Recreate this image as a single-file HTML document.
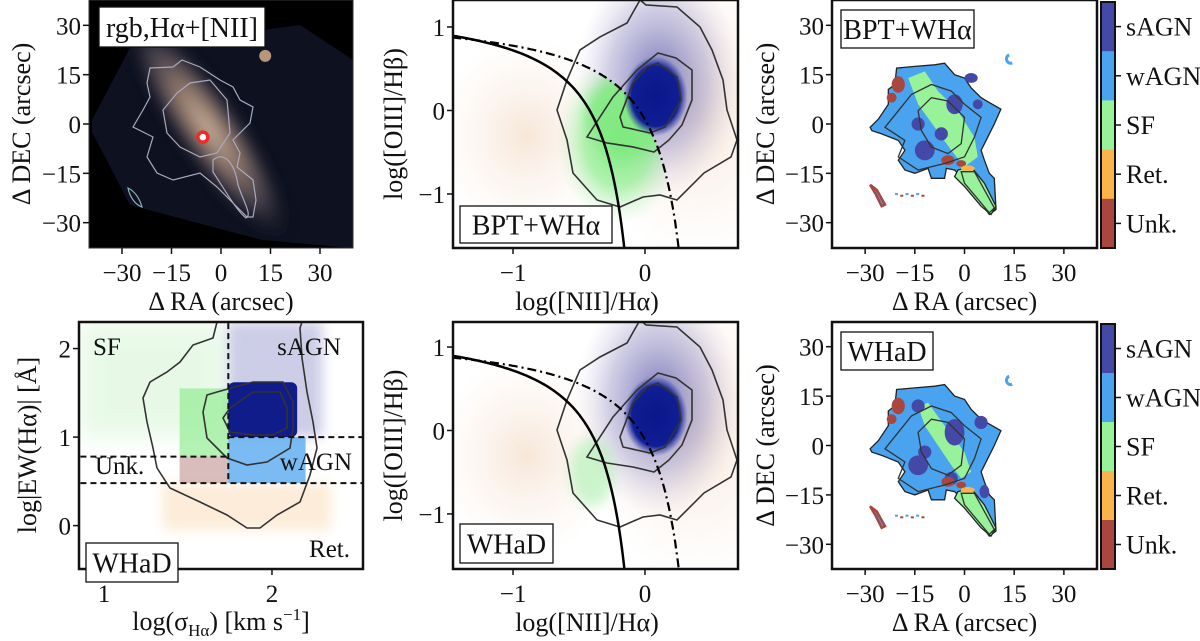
<!DOCTYPE html>
<html><head><meta charset="utf-8">
<style>
html,body{margin:0;padding:0;background:#fff;}
svg{display:block;font-family:"Liberation Serif",serif;}
text{fill:#111;}
</style></head>
<body>
<svg id="fig" width="1200" height="641" viewBox="0 0 1200 641" xmlns="http://www.w3.org/2000/svg">
<defs id="defs">
<filter id="blur3" x="-30%" y="-30%" width="160%" height="160%"><feGaussianBlur stdDeviation="3"/></filter>
<filter id="blur6" x="-50%" y="-50%" width="200%" height="200%"><feGaussianBlur stdDeviation="6"/></filter>
<filter id="blur12" x="-50%" y="-50%" width="200%" height="200%"><feGaussianBlur stdDeviation="12"/></filter>
<radialGradient id="gBlue" cx="50%" cy="50%" r="50%"><stop offset="0" stop-color="#0a168a"/><stop offset="0.75" stop-color="#101e94"/><stop offset="1" stop-color="#2a3aa8" stop-opacity="0"/></radialGradient>
<radialGradient id="gHalo" cx="50%" cy="50%" r="50%"><stop offset="0" stop-color="#4a4aa8" stop-opacity="0.75"/><stop offset="0.6" stop-color="#8a88c4" stop-opacity="0.4"/><stop offset="1" stop-color="#c8b8d0" stop-opacity="0"/></radialGradient>
<radialGradient id="gOrange" cx="50%" cy="50%" r="50%"><stop offset="0" stop-color="#e8b890" stop-opacity="0.35"/><stop offset="1" stop-color="#f2d6c0" stop-opacity="0"/></radialGradient>
<radialGradient id="gGreen" cx="50%" cy="50%" r="50%"><stop offset="0" stop-color="#78ea78" stop-opacity="1"/><stop offset="0.55" stop-color="#95ee95" stop-opacity="0.75"/><stop offset="1" stop-color="#c8f2c8" stop-opacity="0"/></radialGradient>
<radialGradient id="gGal" cx="50%" cy="50%" r="50%"><stop offset="0" stop-color="#e8ccb0"/><stop offset="0.35" stop-color="#a88a78"/><stop offset="0.7" stop-color="#4a4450"/><stop offset="1" stop-color="#1a1c28" stop-opacity="0"/></radialGradient>
<clipPath id="clip1"><rect x="89" y="0" width="264" height="248"/></clipPath>
<clipPath id="clip2"><rect x="453" y="0" width="285" height="248"/></clipPath>
<clipPath id="clip4"><rect x="79" y="322" width="284" height="247"/></clipPath>
<clipPath id="clip5"><rect x="453" y="322" width="285" height="247"/></clipPath>
</defs>
<g id="layer"></g>
</svg>
<script>
// ---------- data arrays ----------
const mapTicks = [-30, -15, 0, 15, 30];
const mapTickLabels = ["\u221230", "\u221215", "0", "15", "30"];
const bptXTicks = [-1, 0];
const bptXTickLabels = ["\u22121", "0"];
const bptYTicks = [-1, 0, 1];
const bptYTickLabels = ["\u22121", "0", "1"];
const whadXTicks = [1, 2];
const whadXTickLabels = ["1", "2"];
const whadYTicks = [0, 1, 2];
const whadYTickLabels = ["0", "1", "2"];
const classLabels = ["sAGN", "wAGN", "SF", "Ret.", "Unk."];
const classColors = ["#4448a6", "#4aa3ef", "#98f29a", "#fbb44c", "#a8463f"];
const kauffmannCoef = [0.61, 0.05, 1.3];
const kewleyCoef = [0.61, 0.47, 1.19];
const whadSigmaCut = [1.74];
const whadEWCuts = [0.48, 0.78, 1.0];
const bptCore = [0.08, 0.17];
const bptSFCore = [-0.2, -0.35];
const whadCore = [2.0, 1.3];
const galaxyOutline = [[-28.5,-1],[-26,1.5],[-23,6],[-23,10.5],[-21,12],[-20.5,17],[-15,17.5],[-9,18],[-6,18.5],[-3,15],[0,14],[2,11],[5,8],[7.5,6.5],[11,4.5],[9,0],[7,-4],[5,-8],[6,-11],[7.5,-15],[9,-16.5],[9.5,-26],[7.5,-27.5],[5,-24],[0,-17],[-3,-14],[-5.5,-13.5],[-6,-16.5],[-10,-16.5],[-11,-13.5],[-15,-15],[-18,-14],[-20,-11],[-18,-8],[-20,-5],[-25,-3],[-28,-2]];
const sfBandBPT = [[-17,14],[-12,16],[-8,10],[-2,4],[3,-4],[4,-10],[0,-13],[-4,-8],[-9,-1],[-14,6]];
const sfBandWHaD = [[-14,12],[-11,13],[-6,6],[0,-2],[2,-8],[-1,-10],[-4,-6],[-8,0],[-12,6]];
const sfTail = [[-2,-14],[2,-13],[6,-18],[9.5,-25],[8,-27.5],[5,-25],[0,-19],[-3,-16]];
const sagnPatchesBPT = [[-12,-8,3,3],[-7,-3,2,2],[-3,6,2.5,3],[2,14,2,1.5],[-14,0,2,2],[4,6,1.5,1.5]];
const sagnPatchesWHaD = [[-14,-6,3,3],[-3,4,3,4],[5,7,2,2],[-14,12,2,2],[-4,-10,2,2],[-12,-2,2,2],[6,-14,1.5,2]];
const unkPatches = [[-20,12,2,2.5],[-5,-11,2,1.5],[-22,8,1.5,1.5],[-1,-12,1.5,1]];
const island = [[-28.5,-18.5],[-26.5,-20],[-24,-24.5],[-25,-25],[-27,-21]];
const mapContourOuter = [[-24,-1],[-20,4],[-16,9],[-10,12],[-4,10],[0,6],[5,2],[3,-4],[0,-10],[-6,-12],[-14,-14],[-20,-10],[-18,-5]];
const mapContourInner = [[-14,4],[-10,8],[-5,7],[0,2],[-1,-6],[-5,-9],[-10,-7],[-13,-2]];
const mapContourTail = [[-1,-14.5],[3,-14.5],[9,-25.5],[7.5,-27],[0,-18]];
const nucleus = [-5.5, -4];
const companion = [13.4, 20.7];

// ---------- helpers ----------
const NS = "http://www.w3.org/2000/svg";
const root = document.getElementById("layer");
function mk(tag, parent) { const e = document.createElementNS(NS, tag); (parent || root).appendChild(e); return e; }
function axis(px0, px1, py0, py1, xmin, xmax, ymin, ymax) {
  return { x: v => px0 + (v - xmin) / (xmax - xmin) * (px1 - px0),
           y: v => py1 - (v - ymin) / (ymax - ymin) * (py1 - py0),
           px0, px1, py0, py1 };
}
function txt(parent, x, y, s, size, anchor, rot) {
  const t = mk("text", parent);
  t.setAttribute("x", x); t.setAttribute("y", y);
  t.setAttribute("font-size", size);
  t.setAttribute("text-anchor", anchor || "middle");
  if (rot) t.setAttribute("transform", "rotate(" + rot + " " + x + " " + y + ")");
  t.textContent = s;
  return t;
}
function polyPath(A, pts) { return pts.map((p, i) => (i ? "L" : "M") + A.x(p[0]).toFixed(1) + "," + A.y(p[1]).toFixed(1)).join("") + "Z"; }
function ticks(g, A, xt, xl, yt, yl) {
  xt.forEach((v, i) => {
    const l = mk("line", g);
    l.setAttribute("x1", A.x(v)); l.setAttribute("x2", A.x(v));
    l.setAttribute("y1", A.py1); l.setAttribute("y2", A.py1 + 6);
    l.setAttribute("stroke", "#111"); l.setAttribute("stroke-width", "1.5");
    const t = txt(g, A.x(v), A.py1 + 33, xl[i], 25, "middle");
    
    
  });
  yt.forEach((v, i) => {
    const l = mk("line", g);
    l.setAttribute("x1", A.px0 - 6); l.setAttribute("x2", A.px0);
    l.setAttribute("y1", A.y(v)); l.setAttribute("y2", A.y(v));
    l.setAttribute("stroke", "#111"); l.setAttribute("stroke-width", "1.5");
    const t = txt(g, A.px0 - 8, A.y(v) + 9, yl[i], 25, "end");
    
    
  });
}
function frame(g, A, color, w) {
  const r = mk("rect", g);
  r.setAttribute("x", A.px0); r.setAttribute("y", A.py0);
  r.setAttribute("width", A.px1 - A.px0); r.setAttribute("height", A.py1 - A.py0);
  r.setAttribute("fill", "none"); r.setAttribute("stroke", color); r.setAttribute("stroke-width", w);
  
  
}
function legendBox(g, x, y, w, h, s) {
  const r = mk("rect", g);
  r.setAttribute("x", x); r.setAttribute("y", y); r.setAttribute("width", w); r.setAttribute("height", h);
  r.setAttribute("fill", "#fff"); r.setAttribute("stroke", "#111"); r.setAttribute("stroke-width", "1.3");
  
  
  const t = txt(g, x + w / 2, y + h / 2 + 10, s, 28, "middle");
  
  
}
function pathEl(g, d, fill, stroke, sw) {
  const p = mk("path", g);
  p.setAttribute("d", d); p.setAttribute("fill", fill || "none");
  if (stroke) { p.setAttribute("stroke", stroke); p.setAttribute("stroke-width", sw || 1); }
  return p;
}
function ellipse(g, cx, cy, rx, ry, fill) {
  const e = mk("ellipse", g);
  e.setAttribute("cx", cx); e.setAttribute("cy", cy); e.setAttribute("rx", rx); e.setAttribute("ry", ry);
  e.setAttribute("fill", fill);
  return e;
}
function curve(A, coef, xmin, xmax, ymin) {
  let d = "", first = true;
  for (let i = 0; i <= 200; i++) {
    const x = xmin + (xmax - xmin) * i / 200;
    if (x >= coef[1] - 0.001) break;
    const y = coef[0] / (x - coef[1]) + coef[2];
    if (y < ymin) { const xe = coef[1] + coef[0] / (ymin - coef[2]); d += "L" + A.x(xe).toFixed(1) + "," + A.y(ymin).toFixed(1); break; }
    d += (first ? "M" : "L") + A.x(x).toFixed(1) + "," + A.y(y).toFixed(1); first = false;
  }
  return d;
}

// ---------- map panels ----------
function mapPanel(name, A, band, sagn, legend) {
  const g = mk("g");
  
  
  const base = pathEl(g, polyPath(A, galaxyOutline), classColors[1], "#222", 1.3);
  
  
  const b = pathEl(g, polyPath(A, band), classColors[2]);
  
  
  sagn.forEach(p => {
    const e = ellipse(g, A.x(p[0]), A.y(p[1]), p[2] * 3.3, p[3] * 3.3, classColors[0]);
    
    
  });
  unkPatches.forEach(p => {
    const e = ellipse(g, A.x(p[0]), A.y(p[1]), p[2] * 3.3, p[3] * 3.3, classColors[4]);
    
    
  });
  const tail = pathEl(g, polyPath(A, sfTail), classColors[2], "#222", 1.3);
  
  
  const orng = ellipse(g, A.x(1), A.y(-13.5), 7, 3, classColors[3]);
  
  
  [mapContourOuter, mapContourInner, mapContourTail].forEach(c => {
    const p = pathEl(g, polyPath(A, c), "none", "#333", 1.3);
    
    
  });
  const isl = pathEl(g, polyPath(A, island), classColors[1], classColors[4], 2.5);
  
  
  const c = pathEl(g, "M" + A.x(13.5) + "," + A.y(21) + " a4,4 0 1,0 3,8", "none", classColors[1], 3);
  
  
  for (let k = 0; k < 6; k++) {
    const d = mk("rect", g);
    d.setAttribute("x", A.x(-21 + k * 1.6)); d.setAttribute("y", A.y(-21 - (k % 2) * 0.5));
    d.setAttribute("width", 3); d.setAttribute("height", 2);
    d.setAttribute("fill", k % 2 ? classColors[4] : classColors[1]);
  }
  frame(g, A, "#111", 2.5);
  ticks(g, A, mapTicks, mapTickLabels, mapTicks, mapTickLabels);
  const xl = txt(g, (A.px0 + A.px1) / 2, A.py1 + 62, "\u0394 RA (arcsec)", 26, "middle");
  
  
  const yl = txt(g, A.px0 - 58, (A.py0 + A.py1) / 2, "\u0394 DEC (arcsec)", 26, "middle", -90);
  
  
  legendBox(g, A.px0 + 9, A.py0 + 10, legend === "WHaD" ? 92 : 133, 38, legend);
  const cb = mk("g", g);
  
  
  const h = (A.py1 - A.py0 - 2) / classLabels.length;
  classLabels.forEach((lab, i) => {
    const r = mk("rect", cb);
    r.setAttribute("x", 1101); r.setAttribute("y", A.py0 + 2 + i * h);
    r.setAttribute("width", 14); r.setAttribute("height", h + 0.5);
    r.setAttribute("fill", classColors[i]);
    
    
    const tl = mk("line", cb);
    tl.setAttribute("x1", 1115); tl.setAttribute("x2", 1121);
    tl.setAttribute("y1", A.py0 + 2 + (i + 0.5) * h); tl.setAttribute("y2", A.py0 + 2 + (i + 0.5) * h);
    tl.setAttribute("stroke", "#111"); tl.setAttribute("stroke-width", 1.5);
    const t = txt(cb, 1126, A.py0 + 2 + (i + 0.5) * h + 9, lab, 26, "start");
    
    
  });
  const cbf = mk("rect", cb);
  cbf.setAttribute("x", 1101); cbf.setAttribute("y", A.py0 + 2);
  cbf.setAttribute("width", 14); cbf.setAttribute("height", A.py1 - A.py0 - 2);
  cbf.setAttribute("fill", "none"); cbf.setAttribute("stroke", "#111"); cbf.setAttribute("stroke-width", 2);
}

// ---------- panel 1: rgb image ----------
(function () {
  const A = axis(89, 353, 0, 248, -40, 40, -37.7, 37.7);
  const g = mk("g");
  
  
  const inner = mk("g", g); inner.setAttribute("clip-path", "url(#clip1)");
  const bg = mk("rect", inner);
  bg.setAttribute("x", 89); bg.setAttribute("y", 0); bg.setAttribute("width", 264); bg.setAttribute("height", 248); bg.setAttribute("fill", "#000");
  const field = pathEl(inner, "M92,120 L130,48 L300,25 L353,60 L353,248 L262,240 L130,205 L92,132Z", "#0e1120");
  
  
  const gal = ellipse(inner, A.x(-4), A.y(-1), 135, 34, "url(#gGal)");
  gal.setAttribute("transform", "rotate(55 " + A.x(-4) + " " + A.y(-1) + ")");
  gal.setAttribute("filter", "url(#blur6)");
  gal.setAttribute("opacity", "0.85");
  
  
  const comp = ellipse(inner, A.x(companion[0]), A.y(companion[1]), 6, 6, "#b8967a");
  
  
  const c1 = pathEl(inner, "M150,68 L173,67 L182,60 L200,67 L220,80 L233,87 L240,100 L253,107 L250,123 L233,140 L240,153 L237,167 L253,180 L256,200 L253,217 L247,217 L217,187 L200,173 L173,180 L157,173 L147,157 L153,137 L133,127 L143,110 L150,97 L147,83Z", "none", "#a9a9bd", 1.2);
  
  
  const c2 = pathEl(inner, "M163,110 L177,93 L190,83 L210,80 L227,100 L230,133 L217,153 L200,157 L180,147 L167,133Z", "none", "#a9a9bd", 1.2);
  
  
  const c3 = pathEl(inner, "M213,160 C225,150 235,165 238,185 C245,205 252,215 246,218 C236,210 225,190 213,172Z", "none", "#a9a9bd", 1.2);
  
  
  pathEl(inner, "M128,188 C136,192 140,200 142,207 C136,205 130,198 128,188Z", "none", "#8ab0b8", 1.2);
  const nuc = mk("circle", inner);
  nuc.setAttribute("cx", A.x(nucleus[0])); nuc.setAttribute("cy", A.y(nucleus[1])); nuc.setAttribute("r", 5);
  nuc.setAttribute("fill", "#fff"); nuc.setAttribute("stroke", "#ee2a2a"); nuc.setAttribute("stroke-width", 3.5);
  
  
  frame(g, A, "#333", 1);
  ticks(g, A, mapTicks, mapTickLabels, mapTicks, mapTickLabels);
  const xl = txt(g, 221, 310, "\u0394 RA (arcsec)", 26, "middle");
  
  
  const yl = txt(g, 30, 124, "\u0394 DEC (arcsec)", 26, "middle", -90);
  
  
  legendBox(g, 99, 7, 166, 40, "rgb,H\u03B1+[NII]");
})();

// ---------- BPT panels ----------
let clipCount = 0;
function bptPanel(name, A, clipId, greenFill, legend) {
  const g = mk("g");
  
  
  const inner = mk("g", g); inner.setAttribute("clip-path", "url(#" + clipId + ")");
  const o1 = ellipse(inner, A.x(0.4), A.y(0.0), 110, 150, "url(#gOrange)");
  
  
  const o2 = ellipse(inner, A.x(-0.9), A.y(-0.3), 90, 100, "url(#gOrange)");
  
  
  const halo = ellipse(inner, A.x(bptCore[0] + 0.02), A.y(bptCore[1] + 0.2), 82, 118, "url(#gHalo)");
  
  
  // region left of Kewley line (clip for SF points)
  clipCount++;
  const cp = mk("clipPath", document.getElementById("defs"));
  cp.setAttribute("id", "kew" + clipCount);
  pathEl(cp, curve(A, kewleyCoef, -1.46, 0.47, -1.7) + " L" + A.px0 + "," + (A.py1 + 5) + "Z", "#000");
  const sfg = mk("g", inner);
  sfg.setAttribute("clip-path", "url(#kew" + clipCount + ")");
  
  
  if (greenFill) {
    ellipse(sfg, A.x(bptSFCore[0]), A.y(bptSFCore[1]), 62, 85, "url(#gGreen)");
    const gm = ellipse(sfg, A.x(bptSFCore[0] + 0.08), A.y(bptSFCore[1] + 0.3), 42, 40, "#80ea80");
    gm.setAttribute("opacity", "0.8"); gm.setAttribute("filter", "url(#blur6)");
  } else {
    const gm = ellipse(sfg, A.x(-0.4), A.y(-0.5), 22, 34, "#9aeea0");
    gm.setAttribute("opacity", "0.5"); gm.setAttribute("filter", "url(#blur6)");
  }
  const core = ellipse(inner, A.x(bptCore[0]), A.y(bptCore[1]), 32, 40, "url(#gBlue)");
  
  
  const sh = mk("g", inner);
  sh.setAttribute("transform", "translate(0," + (A.y(0) - 110.5) + ")");
  const cO = pathEl(sh, "M640,0 L627,23 L600,37 L580,50 L567,80 L557,110 L567,140 L573,173 L597,200 L620,207 L643,197 L660,195 L677,200 L704,173 L731,157 L737,140 L727,110 L723,80 L712,50 L700,27 L677,7 L646,5Z", "none", "#333", 1.6);
  
  
  const cM = pathEl(sh, "M587,137 L613,97 L637,70 L658,53 L676,58 L692,70 L692,100 L682,125 L669,140 L654,152 L633,147 L607,143Z", "none", "#333", 1.6);
  
  
  const cI = pathEl(sh, "M620,117 L633,83 L647,67 L658,63 L677,77 L681,100 L665,127 L650,133 L623,127Z", "none", "#333", 1.6);
  
  
  const k = pathEl(inner, curve(A, kauffmannCoef, -1.46, 0.05, -1.7), "none", "#000", 2.5);
  
  
  const kw = pathEl(inner, curve(A, kewleyCoef, -1.46, 0.47, -1.7), "none", "#000", 2.2);
  kw.setAttribute("stroke-dasharray", "9,4,2,4");
  
  
  frame(g, A, "#111", 2.5);
  ticks(g, A, bptXTicks, bptXTickLabels, bptYTicks, bptYTickLabels);
  const xl = txt(g, 587, A.py1 + 62, "log([NII]/H\u03B1)", 26, "middle");
  
  
  const yl = txt(g, 402, (A.py0 + A.py1) / 2, "log([OIII]/H\u03B2)", 26, "middle", -90);
  
  
  if (legend === "WHaD") legendBox(g, 460, A.py1 - 45, 93, 39, legend);
  else legendBox(g, 460, A.py1 - 42, 152, 37, legend);
}
bptPanel("bpt-panel-bpt-whalpha", axis(453, 738, 0, 248, -1.455, 0.705, -1.647, 1.323), "clip2", true, "BPT+WH\u03B1");
bptPanel("bpt-panel-whad", axis(453, 738, 322, 569, -1.455, 0.705, -1.66, 1.30), "clip5", false, "WHaD");

// ---------- WHaD diagram ----------
(function () {
  const A = axis(79, 363, 322, 569, 0.851, 2.542, -0.49, 2.30);
  const g = mk("g");
  
  
  const inner = mk("g", g); inner.setAttribute("clip-path", "url(#clip4)");
  const s = whadSigmaCut[0];
  function region(x0, x1, y0, y1, fill, op, nm) {
    const r = mk("rect", inner);
    r.setAttribute("x", A.x(x0)); r.setAttribute("y", A.y(y1));
    r.setAttribute("width", A.x(x1) - A.x(x0)); r.setAttribute("height", A.y(y0) - A.y(y1));
    r.setAttribute("fill", fill); r.setAttribute("opacity", op);
    
    
    return r;
  }
  region(0.85, s, whadEWCuts[2], 2.3, "#d8f5d8", 0.6, "sf-scatter-faint").setAttribute("filter", "url(#blur12)");
  region(s, 2.3, whadEWCuts[2], 2.3, "#b8b8de", 0.7, "sagn-scatter-faint").setAttribute("filter", "url(#blur6)");
  region(1.35, 2.35, -0.05, whadEWCuts[0], "#fbe0c0", 0.6, "ret-scatter").setAttribute("filter", "url(#blur6)");
  region(1.45, s, whadEWCuts[1], 1.55, "#9aee9a", 0.75, "sf-scatter");
  region(1.45, s, whadEWCuts[0], whadEWCuts[1], "#c9a0a0", 0.7, "unk-scatter");
  region(s, 2.2, whadEWCuts[0], whadEWCuts[2], "#5aaaf0", 0.8, "wagn-scatter");
  const core = mk("rect", inner);
  core.setAttribute("x", A.x(s)); core.setAttribute("y", A.y(whadCore[1] + 0.32));
  core.setAttribute("width", A.x(2.15) - A.x(s)); core.setAttribute("height", A.y(whadEWCuts[2]) - A.y(whadCore[1] + 0.32));
  core.setAttribute("fill", "#101c8a");
  core.setAttribute("rx", "6");
  
  
  const cO = pathEl(inner, "M217,322 L213,338 L193,345 L180,362 L167,372 L150,382 L143,398 L147,422 L153,448 L157,468 L170,488 L200,502 L227,515 L247,528 L260,528 L277,515 L300,502 L310,475 L317,448 L313,422 L307,392 L302,358 L300,328 L302,322", "none", "#333", 1.6);
  
  
  const cM = pathEl(inner, "M207,395 L217,392 L253,382 L283,382 L293,402 L293,428 L290,448 L267,462 L247,465 L227,458 L207,438 L203,412Z", "none", "#333", 1.6);
  
  
  const cI = pathEl(inner, "M230,408 L253,392 L280,392 L287,408 L287,428 L273,435 L253,435 L230,432 L223,418Z", "none", "#333", 1.6);
  
  
  function dashed(x1, y1, x2, y2) {
    const l = mk("line", inner);
    l.setAttribute("x1", A.x(x1)); l.setAttribute("y1", A.y(y1)); l.setAttribute("x2", A.x(x2)); l.setAttribute("y2", A.y(y2));
    l.setAttribute("stroke", "#111"); l.setAttribute("stroke-width", 2); l.setAttribute("stroke-dasharray", "6,4");
    
    
  }
  dashed(s, 2.4, s, whadEWCuts[0]);
  dashed(s, whadEWCuts[2], 2.6, whadEWCuts[2]);
  dashed(0.8, whadEWCuts[1], s, whadEWCuts[1]);
  dashed(0.8, whadEWCuts[0], 2.6, whadEWCuts[0]);
  const labs = [["SF", 93, 355, "start"], ["sAGN", 341, 355, "end"], ["Unk.", 95, 474, "start"], ["wAGN", 352, 470, "end"], ["Ret.", 350, 557, "end"]];
  labs.forEach(l => {
    const t = txt(g, l[1], l[2], l[0], 25, l[3]);
    
    
  });
  frame(g, A, "#111", 2.5);
  ticks(g, A, whadXTicks, whadXTickLabels, whadYTicks, whadYTickLabels);
  const xl = txt(g, 221, 630, "", 26, "middle");
  const t1 = mk("tspan", xl); t1.textContent = "log(\u03C3";
  const t2 = mk("tspan", xl); t2.setAttribute("font-size", "17"); t2.setAttribute("dy", "6"); t2.textContent = "H\u03B1";
  const t3 = mk("tspan", xl); t3.setAttribute("dy", "-6"); t3.textContent = ") [km s";
  const t4 = mk("tspan", xl); t4.setAttribute("font-size", "17"); t4.setAttribute("dy", "-10"); t4.textContent = "\u22121";
  const t5 = mk("tspan", xl); t5.setAttribute("dy", "10"); t5.textContent = "]";
  
  
  const yl = txt(g, 36, 445, "log|EW(H\u03B1)| [\u00C5]", 26, "middle", -90);
  
  
  legendBox(g, 86, 543, 92, 39, "WHaD");
})();

// ---------- map panels 3 and 6 ----------
mapPanel("bpt-whalpha-map", axis(832, 1097, 0, 248, -40, 40, -37.7, 37.7), sfBandBPT, sagnPatchesBPT, "BPT+WH\u03B1");
mapPanel("whad-map", axis(832, 1097, 322, 569, -40, 40, -37.5, 37.5), sfBandWHaD, sagnPatchesWHaD, "WHaD");
</script>
</body></html>
